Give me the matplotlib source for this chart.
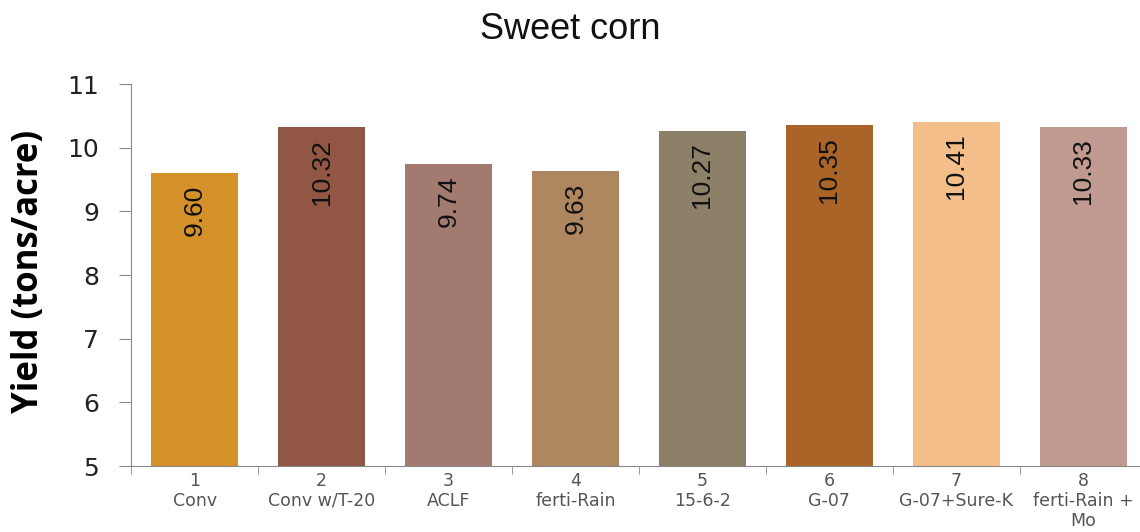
import numpy as np
import matplotlib.pyplot as plt

nums = ['1', '2', '3', '4', '5', '6', '7', '8']
names = ['Conv', 'Conv w/T-20', 'ACLF', 'ferti-Rain', '15-6-2', 'G-07',
         'G-07+Sure-K', 'ferti-Rain +\nMo']
yields = [9.60, 10.32, 9.74, 9.63, 10.27, 10.35, 10.41, 10.33]
colors = ['#D4912A', '#925644', '#A27A70', '#AE8660', '#8C8168', '#AA6427',
          '#F4BE8A', '#C09A90']

fig = plt.figure(figsize=(11.4, 5.32), dpi=100)
ax = fig.add_axes([0.115, 0.124, 0.891, 0.718])

x = np.arange(len(yields))
ax.bar(x, np.array(yields) - 5, bottom=5, width=0.68, color=colors)
for xi, v in zip(x, yields):
    ax.text(xi, v - 0.18, '%.2f' % v, rotation=90, ha='center', va='top',
            fontsize=19, color='#111111',
            family=['Liberation Sans Narrow', 'Liberation Sans'])

ax.set_xlim(-0.5, 7.5)
ax.set_ylim(5, 11)
ax.set_yticks(range(5, 12))
ax.tick_params(axis='y', labelsize=18, length=9, color='#888888', pad=14,
               labelcolor='#222222')

labels = [n + '\n' + s for n, s in zip(nums, names)]
ax.set_xticks(x)
ax.set_xticklabels(labels, fontsize=12.5, color='#555555', linespacing=1.15)
ax.tick_params(axis='x', which='major', length=0, pad=4)
ax.set_xticks(np.arange(-0.5, 8, 1), minor=True)
ax.tick_params(axis='x', which='minor', length=6, color='#888888')

for s in ['top', 'right']:
    ax.spines[s].set_visible(False)
for s in ['left', 'bottom']:
    ax.spines[s].set_color('#888888')

ax.set_ylabel('Yield (tons/acre)', fontsize=25, fontweight='bold',
              family='Open Sans')
ax.yaxis.set_label_coords(-0.083, 0.51)
fig.text(0.5, 0.945, 'Sweet corn', ha='center', va='center', fontsize=26,
         color='#111111', family='Liberation Sans')

fig.savefig('out.png', dpi=100)
